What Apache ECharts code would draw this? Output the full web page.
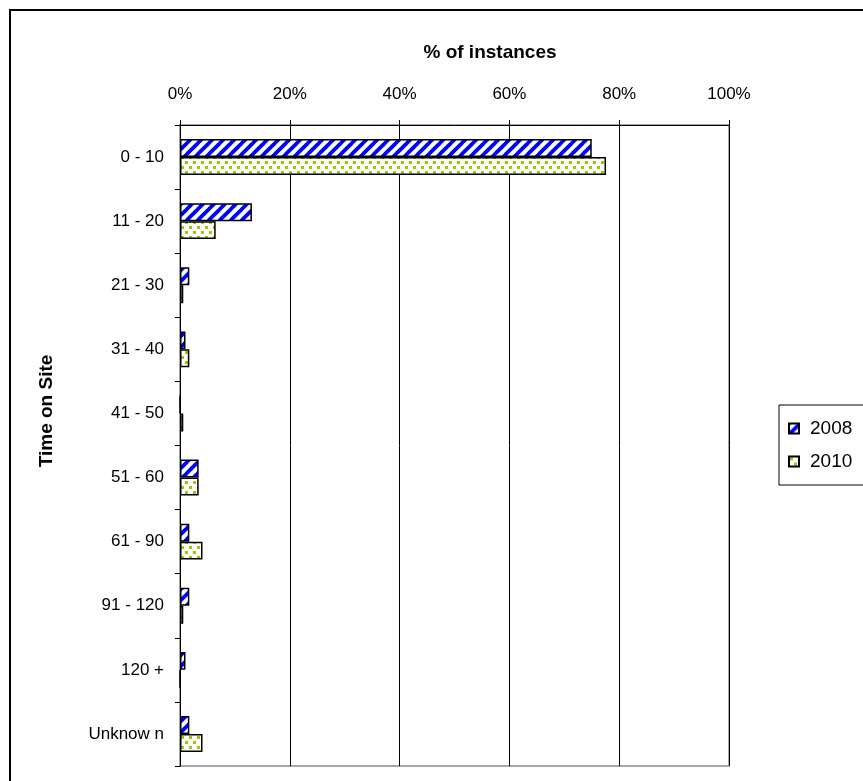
<!DOCTYPE html>
<html>
<head>
<meta charset="utf-8">
<script src="https://cdn.jsdelivr.net/npm/echarts@6/dist/echarts.min.js"></script>
<style>
  html, body { margin: 0; padding: 0; background: #fff; }
  #chart { width: 863px; height: 781px; }
</style>
</head>
<body>
<div id="chart"></div>
<script>
// Time-on-site buckets (minutes) and share of instances per year, in percent
var categories = ['0 - 10', '11 - 20', '21 - 30', '31 - 40', '41 - 50', '51 - 60', '61 - 90', '91 - 120', '120 +', 'Unknow n'];
var values2008 = [75.0, 13.1, 1.7, 1.0, 0, 3.4, 1.7, 1.7, 1.0, 1.7];
var values2010 = [77.6, 6.5, 0.6, 1.7, 0.6, 3.4, 4.1, 0.6, 0, 4.1];
var seriesNames = ['2008', '2010'];
var xTicks = [0, 20, 40, 60, 80, 100];

var FONT = '"Liberation Sans", Arial, sans-serif';

// Blue diagonal hatch fill
function stripePattern() {
  var s = 11;
  var c = document.createElement('canvas');
  c.width = s; c.height = s;
  var g = c.getContext('2d');
  g.fillStyle = '#fff';
  g.fillRect(0, 0, s, s);
  g.strokeStyle = '#0000ff';
  g.lineWidth = 3.8;
  for (var k = -1; k <= 1; k++) {
    g.beginPath();
    g.moveTo(k * s - 1, s + 1);
    g.lineTo(k * s + s + 1, -1);
    g.stroke();
  }
  return c;
}

// Green speckled fill
function dotPattern() {
  var w = 8, h = 10;
  var c = document.createElement('canvas');
  c.width = w; c.height = h;
  var g = c.getContext('2d');
  g.fillStyle = '#fff';
  g.fillRect(0, 0, w, h);
  g.fillStyle = '#99cc00';
  g.fillRect(1, 1, 3, 3);
  g.fillRect(5, 6, 3, 3);
  return c;
}

var fill2008 = { image: stripePattern(), repeat: 'repeat' };
var fill2010 = { image: dotPattern(), repeat: 'repeat' };

var chart = echarts.init(document.getElementById('chart'), null, { renderer: 'canvas' });

chart.setOption({
  backgroundColor: '#fff',
  animation: false,
  textStyle: { fontFamily: FONT },
  graphic: [
    {
      type: 'rect', z: 0,
      shape: { x: 10, y: 10, width: 870, height: 790 },
      style: { fill: 'none', stroke: '#000', lineWidth: 2 }
    },
    {
      type: 'text', x: 490, y: 53,
      style: {
        text: '% of instances', font: 'bold 19px ' + FONT, fill: '#000',
        textAlign: 'center', textVerticalAlign: 'middle'
      }
    },
    {
      type: 'text', x: 47, y: 411, rotation: Math.PI / 2,
      style: {
        text: 'Time on Site', font: 'bold 19px ' + FONT, fill: '#000',
        textAlign: 'center', textVerticalAlign: 'middle'
      }
    }
  ],
  legend: {
    orient: 'vertical',
    left: 779, top: 405,
    padding: [14, 60, 14, 9],
    itemGap: 14,
    itemWidth: 10, itemHeight: 10,
    borderColor: '#000', borderWidth: 1, borderRadius: 0,
    icon: 'rect',
    textStyle: { fontSize: 19, color: '#000', fontFamily: FONT, padding: [0, 0, 0, 6] },
    data: seriesNames
  },
  grid: {
    left: 180, top: 125, right: 134, bottom: 15,
    show: true,
    borderColor: '#a6a6a6', borderWidth: 2,
    containLabel: false
  },
  xAxis: {
    type: 'value',
    position: 'top',
    min: 0, max: 100, interval: 20,
    axisLine: { show: true, lineStyle: { color: '#000', width: 1 } },
    axisTick: { show: true, length: 5, lineStyle: { color: '#000' } },
    splitLine: { show: true, lineStyle: { color: '#000', width: 1 } },
    axisLabel: {
      margin: 22, fontSize: 17, color: '#000', fontFamily: FONT,
      formatter: function (v) { return xTicks.indexOf(v) >= 0 ? v + '%' : ''; }
    }
  },
  yAxis: {
    type: 'category',
    inverse: true,
    data: categories,
    boundaryGap: true,
    axisLine: { show: true, lineStyle: { color: '#000', width: 1 } },
    axisTick: { show: true, length: 5, alignWithLabel: false, lineStyle: { color: '#000' } },
    splitLine: { show: false },
    axisLabel: { margin: 16, fontSize: 17, color: '#000', fontFamily: FONT }
  },
  series: [
    {
      name: seriesNames[0], type: 'bar', data: values2008,
      barGap: '0%', barCategoryGap: '44%',
      itemStyle: { color: fill2008, borderColor: '#000', borderWidth: 1.5 }
    },
    {
      name: seriesNames[1], type: 'bar', data: values2010,
      barGap: '0%', barCategoryGap: '44%',
      itemStyle: { color: fill2010, borderColor: '#000', borderWidth: 1.5 }
    }
  ]
});
</script>
</body>
</html>
